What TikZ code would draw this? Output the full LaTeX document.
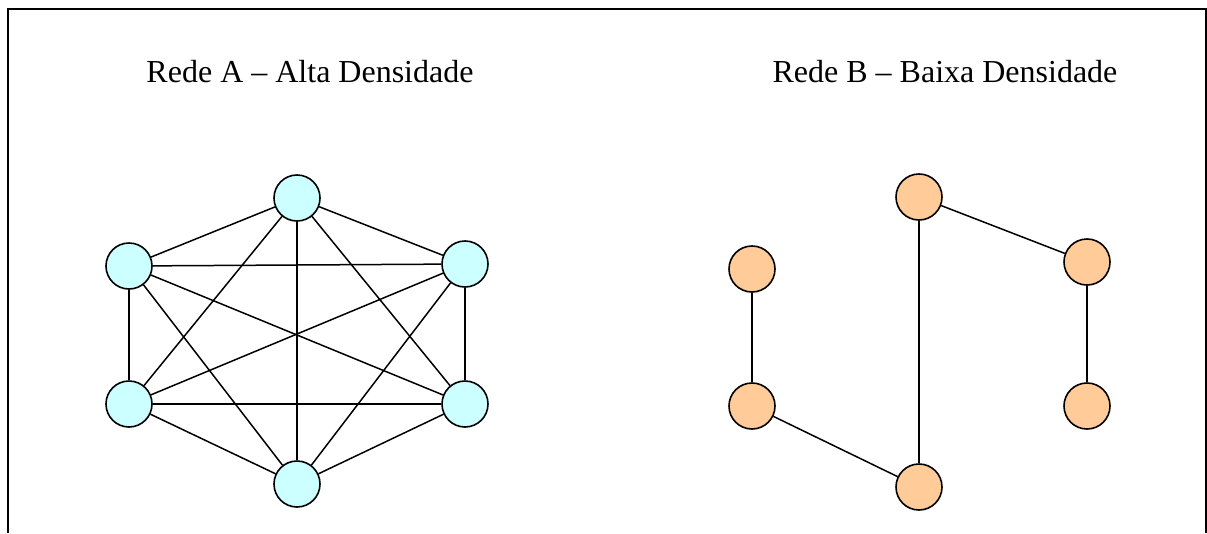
\documentclass[tikz,border=0pt]{standalone}
\usepackage{fontspec}
\setmainfont{Liberation Serif}
\definecolor{cyanfill}{HTML}{CCFFFF}
\definecolor{orangefill}{HTML}{FFCC99}
\begin{document}
\begin{tikzpicture}[x=1pt,y=-1pt,
  vtx/.style={circle,draw=black,line width=1.6pt,minimum size=46pt,inner sep=0pt},
  va/.style={vtx,fill=cyanfill},
  vb/.style={vtx,fill=orangefill},
  edge/.style={line width=1.5pt},
  title/.style={font=\fontsize{32}{36}\selectfont,inner sep=0pt}]
\useasboundingbox (0,0) rectangle (1207,533);
\draw[line width=2pt] (8,533) -- (8,9) -- (1206,9) -- (1206,533);
\node[title] (ta) at (310,72) {Rede A – Alta Densidade};
\node[title] (tb) at (945,72) {Rede B – Baixa Densidade};
% Rede A
\node[va] (a1) at (297,198) {};
\node[va] (a2) at (129,266) {};
\node[va] (a3) at (465,264) {};
\node[va] (a4) at (129,404) {};
\node[va] (a5) at (465,404) {};
\node[va] (a6) at (297,484) {};
\foreach \i/\j in {1/2,1/3,1/4,1/5,1/6,2/3,2/4,2/5,2/6,3/4,3/5,3/6,4/5,4/6,5/6}
  \draw[edge] (a\i) -- (a\j);
% Rede B
\node[vb] (b1) at (919,197) {};
\node[vb] (b2) at (752,269) {};
\node[vb] (b3) at (1087,262) {};
\node[vb] (b4) at (752,406) {};
\node[vb] (b5) at (1087,406) {};
\node[vb] (b6) at (919,487) {};
\draw[edge] (b1) -- (b3);
\draw[edge] (b1) -- (b6);
\draw[edge] (b2) -- (b4);
\draw[edge] (b4) -- (b6);
\draw[edge] (b3) -- (b5);
\end{tikzpicture}
\end{document}
